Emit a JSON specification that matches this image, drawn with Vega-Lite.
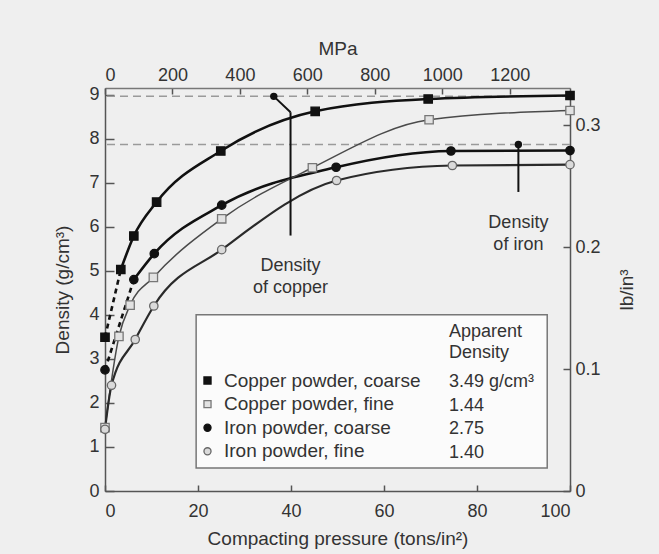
{
  "$schema": "https://vega.github.io/schema/vega-lite/v6.json",
  "width": 465,
  "height": 403,
  "autosize": {"type": "none"},
  "padding": {"left": 105, "top": 88, "right": 89, "bottom": 63},
  "background": "#efefef",
  "config": {
    "font": "Liberation Sans",
    "view": {"stroke": null},
    "axis": {
      "labelFont": "Liberation Sans", "titleFont": "Liberation Sans",
      "labelFontSize": 18, "titleFontSize": 19, "titleFontWeight": "normal",
      "labelColor": "#333", "titleColor": "#333",
      "domainColor": "#555", "domainWidth": 1.5, "tickColor": "#555", "tickWidth": 1.5,
      "grid": false
    },
    "legend": {
      "labelFont": "Liberation Sans", "labelFontSize": 18, "labelColor": "#333", "labelLimit": 300,
      "titleFont": "Liberation Sans", "titleFontSize": 18, "titleFontWeight": "normal", "titleColor": "#333",
      "padding": 0
    }
  },
  "datasets": {
    "powder": [
      {"series": "Copper powder, coarse", "apparent": "3.49 g/cm³", "tsi": 0, "density": 3.49},
      {"series": "Copper powder, coarse", "apparent": "3.49 g/cm³", "tsi": 3.4, "density": 5.03},
      {"series": "Copper powder, coarse", "apparent": "3.49 g/cm³", "tsi": 6.2, "density": 5.79},
      {"series": "Copper powder, coarse", "apparent": "3.49 g/cm³", "tsi": 11.1, "density": 6.56},
      {"series": "Copper powder, coarse", "apparent": "3.49 g/cm³", "tsi": 24.9, "density": 7.72},
      {"series": "Copper powder, coarse", "apparent": "3.49 g/cm³", "tsi": 45.2, "density": 8.62},
      {"series": "Copper powder, coarse", "apparent": "3.49 g/cm³", "tsi": 69.5, "density": 8.9},
      {"series": "Copper powder, coarse", "apparent": "3.49 g/cm³", "tsi": 100, "density": 8.98},
      {"series": "Copper powder, fine", "apparent": "1.44", "tsi": 0, "density": 1.44},
      {"series": "Copper powder, fine", "apparent": "1.44", "tsi": 3.0, "density": 3.51},
      {"series": "Copper powder, fine", "apparent": "1.44", "tsi": 5.4, "density": 4.22},
      {"series": "Copper powder, fine", "apparent": "1.44", "tsi": 10.4, "density": 4.85},
      {"series": "Copper powder, fine", "apparent": "1.44", "tsi": 25.1, "density": 6.18},
      {"series": "Copper powder, fine", "apparent": "1.44", "tsi": 44.6, "density": 7.34},
      {"series": "Copper powder, fine", "apparent": "1.44", "tsi": 69.7, "density": 8.43},
      {"series": "Copper powder, fine", "apparent": "1.44", "tsi": 100, "density": 8.64},
      {"series": "Iron powder, coarse", "apparent": "2.75", "tsi": 0, "density": 2.75},
      {"series": "Iron powder, coarse", "apparent": "2.75", "tsi": 6.2, "density": 4.8},
      {"series": "Iron powder, coarse", "apparent": "2.75", "tsi": 10.6, "density": 5.39},
      {"series": "Iron powder, coarse", "apparent": "2.75", "tsi": 25.1, "density": 6.49},
      {"series": "Iron powder, coarse", "apparent": "2.75", "tsi": 49.7, "density": 7.35},
      {"series": "Iron powder, coarse", "apparent": "2.75", "tsi": 74.4, "density": 7.72},
      {"series": "Iron powder, coarse", "apparent": "2.75", "tsi": 100, "density": 7.73},
      {"series": "Iron powder, fine", "apparent": "1.40", "tsi": 0, "density": 1.4},
      {"series": "Iron powder, fine", "apparent": "1.40", "tsi": 1.4, "density": 2.4},
      {"series": "Iron powder, fine", "apparent": "1.40", "tsi": 6.5, "density": 3.44},
      {"series": "Iron powder, fine", "apparent": "1.40", "tsi": 10.5, "density": 4.2},
      {"series": "Iron powder, fine", "apparent": "1.40", "tsi": 25.1, "density": 5.48},
      {"series": "Iron powder, fine", "apparent": "1.40", "tsi": 49.8, "density": 7.05},
      {"series": "Iron powder, fine", "apparent": "1.40", "tsi": 74.7, "density": 7.39},
      {"series": "Iron powder, fine", "apparent": "1.40", "tsi": 100, "density": 7.41}
    ],
    "metals": [
      {"metal": "copper", "density": 8.96},
      {"metal": "iron", "density": 7.87}
    ]
  },
  "layer": [
    {
      "layer": [
        {
          "data": {"values": [{}]},
          "mark": {"type": "rect", "fill": "#fbfbfb", "stroke": "#777", "strokeWidth": 1.5},
          "encoding": {
            "x": {"datum": 19.6, "type": "quantitative"},
            "x2": {"datum": 95.1},
            "y": {"datum": 0.52, "type": "quantitative"},
            "y2": {"datum": 4.0}
          }
        },
        {
          "data": {"name": "metals"},
          "mark": {"type": "rule", "stroke": "#9a9a9a", "strokeWidth": 1.5, "strokeDash": [8, 5]},
          "encoding": {
            "y": {"field": "density", "type": "quantitative", "title": "Density (g/cm³)"}
          }
        },
        {
          "data": {"name": "powder"},
          "transform": [
            {"window": [{"op": "row_number", "as": "k"}], "groupby": ["series"], "sort": [{"field": "tsi"}]},
            {"filter": "indexof(datum.series, 'coarse') >= 0 && datum.k >= 2"}
          ],
          "mark": {"type": "line", "interpolate": "monotone", "stroke": "#111", "strokeWidth": 2.6},
          "encoding": {
            "x": {
              "field": "tsi", "type": "quantitative",
              "scale": {"domain": [0, 100], "nice": false},
              "axis": {"orient": "bottom", "values": [0, 20, 40, 60, 80, 100], "tickSize": -6, "labelPadding": 17, "title": "Compacting pressure (tons/in²)", "titlePadding": 9}
            },
            "y": {
              "field": "density", "type": "quantitative",
              "scale": {"domain": [0, 9.15], "nice": false},
              "axis": {"orient": "left", "values": [0, 1, 2, 3, 4, 5, 6, 7, 8, 9], "tickSize": -9, "labelPadding": 15, "title": "Density (g/cm³)", "titlePadding": 16}
            },
            "detail": {"field": "series"}
          }
        },
        {
          "data": {"name": "powder"},
          "transform": [{"filter": "datum.series == 'Copper powder, fine'"}],
          "mark": {"type": "line", "interpolate": "monotone", "stroke": "#4a4a4a", "strokeWidth": 1.5},
          "encoding": {
            "x": {"field": "tsi", "type": "quantitative", "title": "Compacting pressure (tons/in²)"},
            "y": {"field": "density", "type": "quantitative", "title": "Density (g/cm³)"}
          }
        },
        {
          "data": {"name": "powder"},
          "transform": [{"filter": "datum.series == 'Iron powder, fine'"}],
          "mark": {"type": "line", "interpolate": "monotone", "stroke": "#2a2a2a", "strokeWidth": 2.2},
          "encoding": {
            "x": {"field": "tsi", "type": "quantitative", "title": "Compacting pressure (tons/in²)"},
            "y": {"field": "density", "type": "quantitative", "title": "Density (g/cm³)"}
          }
        },
        {
          "data": {"name": "powder"},
          "transform": [
            {"window": [{"op": "row_number", "as": "k"}], "groupby": ["series"], "sort": [{"field": "tsi"}]},
            {"filter": "indexof(datum.series, 'coarse') >= 0 && datum.k <= 2"}
          ],
          "mark": {"type": "line", "stroke": "#111", "strokeWidth": 2.6, "strokeDash": [5, 4]},
          "encoding": {
            "x": {"field": "tsi", "type": "quantitative", "title": "Compacting pressure (tons/in²)"},
            "y": {"field": "density", "type": "quantitative", "title": "Density (g/cm³)"},
            "detail": {"field": "series"}
          }
        },
        {
          "data": {"name": "powder"},
          "mark": {"type": "point", "filled": true, "strokeWidth": 1.3, "opacity": 1, "size": 70},
          "encoding": {
            "x": {"field": "tsi", "type": "quantitative", "title": "Compacting pressure (tons/in²)"},
            "y": {"field": "density", "type": "quantitative", "title": "Density (g/cm³)"},
            "shape": {
              "field": "series", "type": "nominal",
              "scale": {"domain": ["Copper powder, coarse", "Copper powder, fine", "Iron powder, coarse", "Iron powder, fine"], "range": ["square", "square", "circle", "circle"]},
              "legend": {"orient": "none", "legendX": 93, "legendY": 283, "title": null, "symbolSize": 50, "symbolStrokeWidth": 1.3, "labelOffset": 7, "labelFontSize": 19, "rowPadding": 3.6, "direction": "vertical"}
            },
            "fill": {
              "field": "series", "type": "nominal",
              "scale": {"domain": ["Copper powder, coarse", "Copper powder, fine", "Iron powder, coarse", "Iron powder, fine"], "range": ["#111111", "#e2e2e2", "#111111", "#dadada"]},
              "legend": {"orient": "none", "legendX": 93, "legendY": 283, "title": null, "symbolSize": 50, "symbolStrokeWidth": 1.3, "labelOffset": 7, "labelFontSize": 19, "rowPadding": 3.6, "direction": "vertical"}
            },
            "stroke": {
              "field": "series", "type": "nominal",
              "scale": {"domain": ["Copper powder, coarse", "Copper powder, fine", "Iron powder, coarse", "Iron powder, fine"], "range": ["#111111", "#777777", "#111111", "#666666"]},
              "legend": {"orient": "none", "legendX": 93, "legendY": 283, "title": null, "symbolSize": 50, "symbolStrokeWidth": 1.3, "labelOffset": 7, "labelFontSize": 19, "rowPadding": 3.6, "direction": "vertical"}
            },
            "opacity": {
              "field": "apparent", "type": "ordinal",
              "scale": {"domain": ["3.49 g/cm³", "1.44", "2.75", "1.40"], "range": [1, 1, 1, 1]},
              "legend": {"orient": "none", "legendX": 344, "legendY": 235, "title": ["Apparent", "Density"], "titleLineHeight": 21, "titlePadding": 11, "symbolSize": 0, "symbolFillColor": "transparent", "symbolStrokeColor": "transparent", "symbolStrokeWidth": 0, "labelOffset": -18, "rowPadding": 5.6, "direction": "vertical"}
            }
          }
        },
        {
          "data": {"values": [{}]},
          "mark": {"type": "rule", "stroke": "#111", "strokeWidth": 2},
          "encoding": {"x": {"datum": 36.3, "type": "quantitative"}, "y": {"datum": 8.96, "type": "quantitative"}, "x2": {"datum": 39.9}, "y2": {"datum": 8.6}}
        },
        {
          "data": {"values": [{}]},
          "mark": {"type": "rule", "stroke": "#111", "strokeWidth": 2},
          "encoding": {"x": {"datum": 39.9, "type": "quantitative"}, "y": {"datum": 8.6, "type": "quantitative"}, "y2": {"datum": 5.8}}
        },
        {
          "data": {"values": [{}]},
          "mark": {"type": "rule", "stroke": "#111", "strokeWidth": 2},
          "encoding": {"x": {"datum": 88.9, "type": "quantitative"}, "y": {"datum": 7.87, "type": "quantitative"}, "y2": {"datum": 6.79}}
        },
        {
          "data": {"values": [{}]},
          "mark": {"type": "point", "filled": true, "fill": "#111", "size": 55, "opacity": 1},
          "encoding": {"x": {"datum": 36.3, "type": "quantitative"}, "y": {"datum": 8.96, "type": "quantitative"}}
        },
        {
          "data": {"values": [{}]},
          "mark": {"type": "point", "filled": true, "fill": "#111", "size": 55, "opacity": 1},
          "encoding": {"x": {"datum": 88.9, "type": "quantitative"}, "y": {"datum": 7.87, "type": "quantitative"}}
        },
        {
          "data": {"values": [{}]},
          "mark": {"type": "text", "text": ["Density", "of copper"], "fontSize": 18, "lineHeight": 22, "fill": "#333", "align": "center", "baseline": "middle"},
          "encoding": {"x": {"datum": 39.9, "type": "quantitative"}, "y": {"datum": 5.1, "type": "quantitative"}}
        },
        {
          "data": {"values": [{}]},
          "mark": {"type": "text", "text": ["Density", "of iron"], "fontSize": 18, "lineHeight": 22, "fill": "#333", "align": "center", "baseline": "middle"},
          "encoding": {"x": {"datum": 88.9, "type": "quantitative"}, "y": {"datum": 6.09, "type": "quantitative"}}
        }
      ]
    },
    {
      "data": {"values": [{}]},
      "mark": {"type": "point", "opacity": 0},
      "encoding": {
        "x": {
          "datum": 0, "type": "quantitative",
          "scale": {"domain": [0, 1379], "nice": false},
          "axis": {"orient": "top", "values": [0, 200, 400, 600, 800, 1000, 1200], "format": "d", "tickSize": -6, "labelPadding": 10, "title": "MPa", "titlePadding": 8, "domainColor": "#777"}
        },
        "y": {
          "datum": 0, "type": "quantitative",
          "scale": {"domain": [0, 0.3306], "nice": false},
          "axis": {"orient": "right", "values": [0, 0.1, 0.2, 0.3], "tickSize": -7, "labelPadding": 12, "labelExpr": "datum.value == 0 ? '0' : format(datum.value, '.1f')", "title": "lb/in³", "titleAngle": 270, "titlePadding": 36}
        }
      }
    }
  ],
  "resolve": {"scale": {"x": "independent", "y": "independent"}}
}
